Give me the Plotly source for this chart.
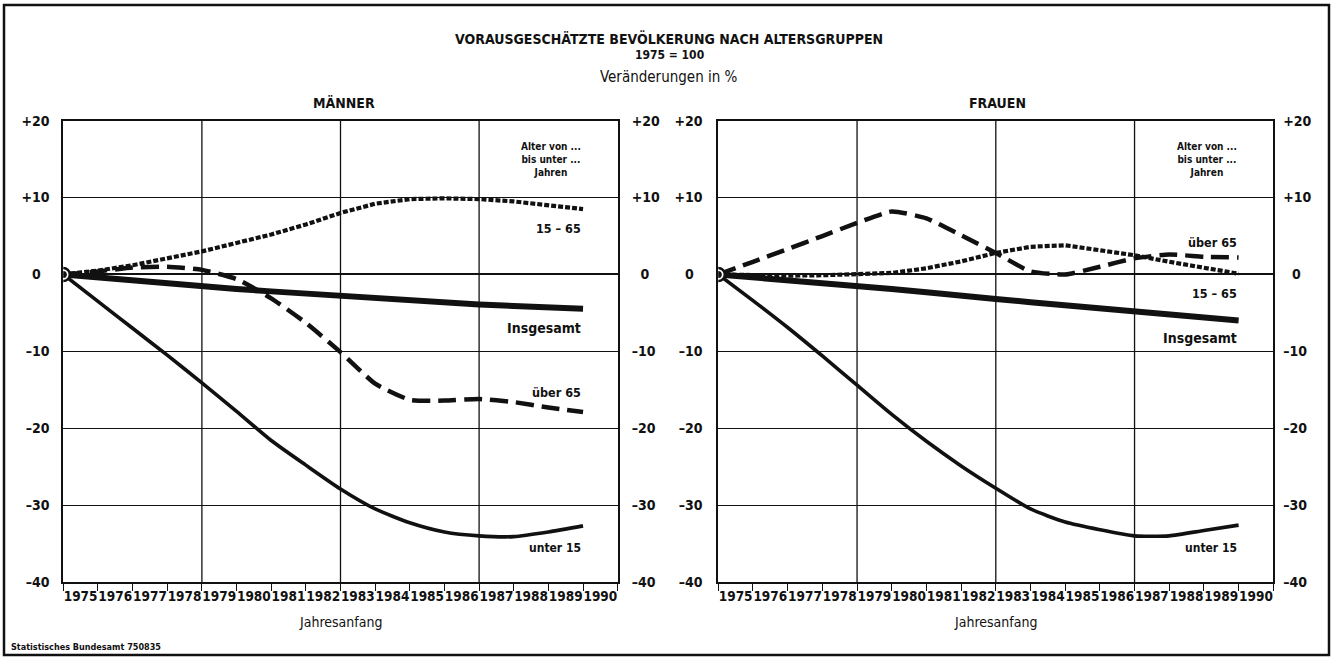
import plotly.graph_objects as go

# ---------------- data ----------------
years = list(range(1975, 1991))
year_labels = [str(y) for y in years]
grid_years = [1979, 1983, 1987]
y_ticks = [20, 10, 0, -10, -20, -30, -40]
y_text_left = ["+20", "+10", "0\u2007", "\u201310", "\u201320", "\u201330", "\u201340"]
y_text_right = ["+20", "+10", "\u20070", "\u201310", "\u201320", "\u201330", "\u201340"]

# Männer (Veränderung in % gegenüber 1975)
m_insgesamt = [0, -0.4, -0.8, -1.2, -1.6, -1.9, -2.2, -2.5, -2.8, -3.1, -3.35, -3.6, -3.9, -4.1, -4.3, -4.45]
m_unter15 = [0, -3.5, -7.0, -10.5, -14.1, -17.8, -21.6, -24.8, -27.9, -30.5, -32.3, -33.5, -34.0, -34.1, -33.5, -32.7]
m_ueber65 = [0, 0.4, 0.9, 1.0, 0.6, -0.6, -3.1, -6.3, -10.1, -14.2, -16.3, -16.4, -16.2, -16.6, -17.3, -17.9]
m_15_65 = [0, 0.5, 1.2, 2.1, 3.0, 4.1, 5.2, 6.5, 8.0, 9.2, 9.8, 9.9, 9.8, 9.5, 9.0, 8.5]

# Frauen
f_insgesamt = [0, -0.35, -0.75, -1.1, -1.5, -1.9, -2.3, -2.8, -3.2, -3.6, -4.0, -4.4, -4.75, -5.15, -5.6, -6.0]
f_unter15 = [0, -3.4, -6.9, -10.6, -14.4, -18.2, -21.7, -24.9, -27.8, -30.5, -32.2, -33.2, -34.0, -34.0, -33.3, -32.6]
f_ueber65 = [0, 1.65, 3.3, 5.0, 6.7, 8.2, 7.3, 5.1, 2.8, 0.4, 0.0, 1.0, 2.1, 2.6, 2.3, 2.2]
f_15_65 = [0, -0.1, -0.15, -0.1, 0.0, 0.2, 0.8, 1.7, 2.8, 3.6, 3.8, 3.2, 2.5, 1.65, 0.9, 0.1]

# ---------------- styling ----------------
FONT = "Liberation Sans Narrow, DejaVu Sans Condensed, Arial Narrow, sans-serif"
BLACK = "#111111"
W, H = 1331, 658   # reference pixel size, used only to express positions as fractions

left_dom = [63.3 / W, 617.7 / W]
right_dom = [718.3 / W, 1273.3 / W]
y_dom = [1 - 582.0 / H, 1 - 120.7 / H]

fig = go.Figure()


def add_panel(xa, ya, ya_over, insg, u15, u65, mid):
    fig.add_trace(go.Scatter(x=years, y=mid, xaxis=xa, yaxis=ya, mode="lines",
                             line=dict(color=BLACK, width=4.2, dash="5px,2px"),
                             hoverinfo="skip", showlegend=False))
    fig.add_trace(go.Scatter(x=years, y=u65, xaxis=xa, yaxis=ya, mode="lines",
                             line=dict(color=BLACK, width=4.5, dash="18px,8px", shape="spline", smoothing=0.5),
                             hoverinfo="skip", showlegend=False))
    fig.add_trace(go.Scatter(x=years, y=u15, xaxis=xa, yaxis=ya, mode="lines",
                             line=dict(color=BLACK, width=3.6, shape="spline", smoothing=0.6),
                             hoverinfo="skip", showlegend=False))
    fig.add_trace(go.Scatter(x=years, y=insg, xaxis=xa, yaxis=ya_over, mode="lines",
                             line=dict(color=BLACK, width=6),
                             hoverinfo="skip", showlegend=False))
    # origin marker
    fig.add_trace(go.Scatter(x=[years[0]], y=[insg[0]], xaxis=xa, yaxis=ya_over, mode="markers",
                             marker=dict(size=13, color="white", line=dict(color=BLACK, width=2.5)),
                             hoverinfo="skip", showlegend=False))
    fig.add_trace(go.Scatter(x=[years[0]], y=[insg[0]], xaxis=xa, yaxis=ya_over, mode="markers",
                             marker=dict(size=7, color=BLACK),
                             hoverinfo="skip", showlegend=False))


add_panel("x", "y", "y2", m_insgesamt, m_unter15, m_ueber65, m_15_65)
add_panel("x2", "y3", "y4", f_insgesamt, f_unter15, f_ueber65, f_15_65)

tickfont = dict(family=FONT, size=14, color=BLACK, weight="bold")
xtickfont = dict(family=FONT, size=13.5, color=BLACK, weight="bold")


def xaxis_cfg(dom, anchor):
    return dict(domain=dom, anchor=anchor, range=[years[0], years[-1] + 1],
                tickmode="array", tickvals=[y + 0.5 for y in years], ticktext=year_labels,
                tickangle=0, ticks="", showgrid=False, zeroline=False, showline=True, mirror=True,
                linecolor=BLACK, linewidth=2, tickfont=xtickfont, ticklabelstandoff=1,
                minor=dict(tickmode="array", tickvals=years + [years[-1] + 1], ticks="outside",
                           ticklen=7, tickwidth=1.3, tickcolor=BLACK, showgrid=False),
                fixedrange=True)


def yaxis_cfg(anchor, standoff):
    return dict(domain=y_dom, anchor=anchor, range=[-40, 20], tickmode="array",
                tickvals=y_ticks, ticktext=y_text_left, ticks="", showgrid=True,
                gridcolor=BLACK, gridwidth=1.3, zeroline=True, zerolinecolor=BLACK,
                zerolinewidth=1.6, showline=True, mirror=True, linecolor=BLACK, linewidth=2,
                tickfont=tickfont, ticklabelstandoff=standoff, fixedrange=True)


def yaxis_right_cfg(over, anchor, standoff):
    return dict(overlaying=over, anchor=anchor, side="right", range=[-40, 20],
                tickmode="array", tickvals=y_ticks, ticktext=y_text_right, ticks="",
                showgrid=False, zeroline=False, showline=False, tickfont=tickfont,
                ticklabelstandoff=standoff, fixedrange=True)


shapes = []
for xr, yr in (("x", "y"), ("x2", "y3")):
    for gx in grid_years:
        shapes.append(dict(type="line", xref=xr, yref=yr + " domain", x0=gx, x1=gx, y0=0, y1=1,
                           line=dict(color=BLACK, width=1.3), layer="below"))
    shapes.append(dict(type="line", xref=xr, yref=yr, x0=years[-1] + 1, x1=years[-1] + 1.22,
                       y0=0, y1=0, line=dict(color=BLACK, width=1.6)))
# outer frame
shapes.append(dict(type="rect", xref="paper", yref="paper", x0=4 / W, x1=1329 / W,
                   y0=1 - 655 / H, y1=1 - 5 / H, line=dict(color=BLACK, width=2.5)))

ann = []


def txt(text, x, y, size, bold=True, xref="paper", yref="paper", xanchor="center",
        yanchor="middle", align="center"):
    ann.append(dict(text=("<b>%s</b>" % text) if bold else text, x=x, y=y, xref=xref, yref=yref,
                    xanchor=xanchor, yanchor=yanchor, align=align, showarrow=False,
                    font=dict(family=FONT, size=size, color=BLACK)))


txt("VORAUSGESCHÄTZTE BEVÖLKERUNG NACH ALTERSGRUPPEN", 0.503, 1 - 39 / H, 14)
txt("1975 = 100", 0.503, 1 - 55 / H, 12)
txt("Veränderungen in %", 0.503, 1 - 77 / H, 15, bold=False)
txt("MÄNNER", 344 / W, 1 - 103 / H, 14)
txt("FRAUEN", 997 / W, 1 - 103 / H, 14)
txt("Statistisches Bundesamt 750835", 9 / W, 1 - 647 / H, 9, xanchor="left")
txt("Jahresanfang", 0.5, 1 - 622 / H, 14, bold=False, xref="x domain")
txt("Jahresanfang", 0.5, 1 - 622 / H, 14, bold=False, xref="x2 domain")

note = "Alter von ...<br>bis unter ...<br>Jahren"
txt(note, years[-1], 15.0, 10, xref="x", yref="y", xanchor="right")
txt(note, years[-1], 15.0, 10, xref="x2", yref="y3", xanchor="right")

# line labels (Männer)
txt("15 – 65", years[-1], 6.0, 12.5, xref="x", yref="y", xanchor="right")
txt("Insgesamt", years[-1], -6.9, 14, xref="x", yref="y", xanchor="right")
txt("über 65", years[-1], -15.3, 12.5, xref="x", yref="y", xanchor="right")
txt("unter 15", years[-1], -35.6, 12, xref="x", yref="y", xanchor="right")
# Frauen
txt("über 65", years[-1], 4.2, 12.5, xref="x2", yref="y3", xanchor="right")
txt("15 – 65", years[-1], -2.5, 12.5, xref="x2", yref="y3", xanchor="right")
txt("Insgesamt", years[-1], -8.2, 14, xref="x2", yref="y3", xanchor="right")
txt("unter 15", years[-1], -35.6, 12, xref="x2", yref="y3", xanchor="right")

fig.update_layout(
    autosize=True, margin=dict(l=0, r=0, t=0, b=0, autoexpand=False),
    paper_bgcolor="white", plot_bgcolor="white", showlegend=False,
    xaxis=xaxis_cfg(left_dom, "y"),
    xaxis2=xaxis_cfg(right_dom, "y3"),
    yaxis=yaxis_cfg("x", 9),
    yaxis2=yaxis_right_cfg("y", "x", 13),
    yaxis3=yaxis_cfg("x2", 11),
    yaxis4=yaxis_right_cfg("y3", "x2", 9),
    shapes=shapes, annotations=ann,
)

fig.write_html(
    "out.html",
    default_width="100vw",
    default_height="100vh",
    config={"displayModeBar": False, "responsive": True},
    post_script=(
        "document.documentElement.style.margin='0px';"
        "document.body.style.margin='0px';"
        "document.documentElement.style.overflow='hidden';"
        "document.body.style.overflow='hidden';"
        "var gd=document.getElementById('{plot_id}');"
        "gd.style.width='100vw';gd.style.height='100vh';"
        "Plotly.Plots.resize(gd);"
    ),
)
